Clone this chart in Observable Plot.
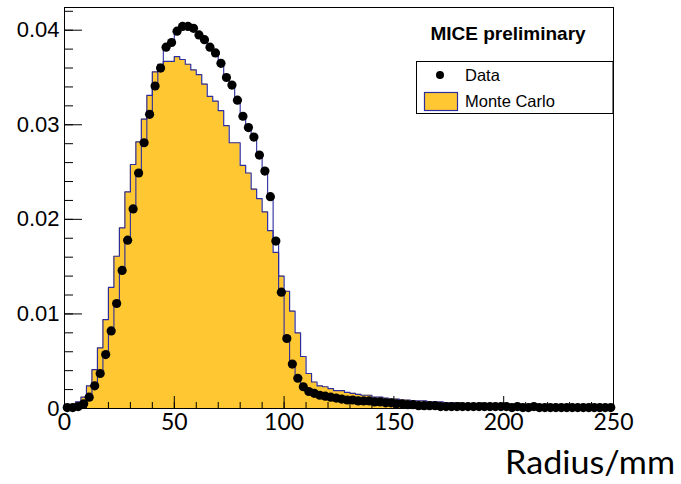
<!DOCTYPE html>
<html>
<head>
<meta charset="utf-8">
<script src="https://cdn.jsdelivr.net/npm/d3@7"></script>
<script src="https://cdn.jsdelivr.net/npm/@observablehq/plot@0.6"></script>
<style>
  html, body { margin: 0; padding: 0; background: white; }
  #chart { width: 681px; height: 484px; }
  g[aria-label="x-axis tick label"] text { font-family: Lato, "Open Sans", sans-serif; }
  g[aria-label="y-axis tick label"] text { font-family: "Liberation Sans", Arial, sans-serif; }
</style>
</head>
<body>
<div id="chart"></div>
<script>
// Histogram binning: 100 bins of 2.5 mm from 0 to 250 mm
const binWidth = 2.5;
const binLow = d3.range(0, 250, binWidth);

// Monte Carlo (normalised) bin contents
const monteCarlo = [
  0.0001,0.0003,0.0007,0.0012,0.0024,0.0041,0.0064,0.0094,0.0128,0.0161,
  0.0191,0.0229,0.0258,0.0282,0.0306,0.0331,0.0356,0.0364,0.0367,0.0367,
  0.0372,0.0369,0.0364,0.0358,0.0353,0.0343,0.0330,0.0325,0.0315,0.0299,
  0.0281,0.0281,0.0257,0.0249,0.0232,0.0222,0.0208,0.0188,0.0165,0.0140,
  0.0124,0.0103,0.0080,0.0055,0.0037,0.0028,0.0024,0.0023,0.0021,0.0019,
  0.0019,0.0017,0.0016,0.0015,0.0014,0.0014,0.0012,0.0012,0.0011,0.0010,
  0.0010,0.0009,0.0009,0.0008,0.0008,0.0008,0.0007,0.0007,0.0007,0.0006,
  0.0006,0.0006,0.0005,0.0005,0.0005,0.0005,0.0005,0.0004,0.0004,0.0004,
  0.0003,0.0003,0.0003,0.0003,0.0003,0.0002,0.0002,0.0002,0.0002,0.0002,
  0.0002,0.0002,0.0002,0.0001,0.0002,0.0001,0.0001,0.0001,0.0001,0.0001
];

// Data (normalised) bin contents
const dataValues = [
  0.0001,0.0001,0.0002,0.0005,0.0012,0.0024,0.0037,0.0057,0.0082,0.0111,
  0.0146,0.0178,0.0211,0.0249,0.0281,0.0311,0.0341,0.0360,0.0382,0.0387,
  0.0399,0.0404,0.0404,0.0402,0.0395,0.0390,0.0382,0.0376,0.0365,0.0350,
  0.0342,0.0326,0.0309,0.0297,0.0287,0.0268,0.0251,0.0224,0.0177,0.0123,
  0.0074,0.0047,0.0032,0.0023,0.0018,0.0016,0.0014,0.0013,0.0012,0.0011,
  0.0010,0.0009,0.0009,0.0008,0.0008,0.0008,0.0007,0.0007,0.0006,0.0006,
  0.0005,0.0005,0.0004,0.0004,0.0003,0.0003,0.0003,0.0003,0.0002,0.0002,
  0.0002,0.0002,0.0002,0.0002,0.0002,0.0002,0.0002,0.0002,0.0002,0.0002,
  0.0002,0.0001,0.0002,0.0001,0.0001,0.0002,0.0001,0.0001,0.0001,0.0001,
  0.0001,0.0001,0.0001,0.0001,0.0001,0.0001,0.0001,0.0001,0.0001,0.0001
];

// Axis ticks
const xMajorTicks = [0, 50, 100, 150, 200, 250];
const xMinorTicks = d3.range(0, 251, 10);
const yMajorTicks = [0, 0.01, 0.02, 0.03, 0.04];
const yMinorTicks = d3.range(0, 0.0424, 0.002);
const xLabel = "Radius/mm";
const title = "MICE preliminary";
const legendLabels = ["Data", "Monte Carlo"];

const yellow = "#ffc832";
const blue = "#2d2d9e";

// step outlines built from the bin contents
function stepOutline(values) {
  const pts = [];
  values.forEach((v, i) => {
    pts.push({x: binLow[i], y: v});
    pts.push({x: binLow[i] + binWidth, y: v});
  });
  return pts;
}
const mcSteps = stepOutline(monteCarlo);
const dataSteps = stepOutline(dataValues);
const dataPoints = dataValues.map((v, i) => ({x: binLow[i] + binWidth / 2, y: v}));

const W = 681, H = 484;
const mL = 64, mR = 68, mT = 7, mB = 76;
const frameW = W - mL - mR, frameH = H - mT - mB;

const plot = Plot.plot({
  width: W,
  height: H,
  marginLeft: mL,
  marginRight: mR,
  marginTop: mT,
  marginBottom: mB,
  style: {background: "white", color: "black", fontFamily: "'Liberation Sans', Arial, sans-serif"},
  x: {domain: [0, 250]},
  y: {domain: [0, 0.0424]},
  marks: [
    Plot.area(mcSteps, {x1: "x", y1: 0, y2: "y", fill: yellow, curve: "linear"}),
    Plot.line(mcSteps, {x: "x", y: "y", stroke: blue, strokeWidth: 1.2}),
    Plot.line(dataSteps, {x: "x", y: "y", stroke: blue, strokeWidth: 1.1}),
    Plot.dot(dataPoints, {x: "x", y: "y", r: 4.6, fill: "black", stroke: "none"}),
    Plot.tickX(xMinorTicks, {x: d => d, stroke: "black", insetTop: frameH - 6}),
    Plot.tickX(xMajorTicks, {x: d => d, stroke: "black", insetTop: frameH - 12}),
    Plot.tickY(yMinorTicks, {y: d => d, stroke: "black", insetRight: frameW - 9}),
    Plot.tickY(yMajorTicks, {y: d => d, stroke: "black", insetRight: frameW - 18}),
    Plot.frame({stroke: "black", strokeWidth: 1}),
    Plot.axisX({ticks: xMajorTicks, tickSize: 0, tickPadding: 5, fontSize: 23, fontFamily: "Lato", tickFormat: d => String(d), label: null}),
    Plot.axisY({ticks: yMajorTicks, tickSize: 0, tickPadding: 5, fontSize: 22, tickFormat: d => d === 0 ? "0" : d.toFixed(2), label: null})
  ]
});

document.getElementById("chart").appendChild(plot);

// Title, legend and axis label overlay
const svg = d3.select(plot);
svg.append("text")
  .attr("x", 508).attr("y", 40)
  .attr("text-anchor", "middle")
  .attr("font-family", "'Liberation Sans', Arial, sans-serif")
  .attr("font-weight", "bold")
  .attr("font-size", 19)
  .attr("fill", "black")
  .text(title);

const lg = svg.append("g");
lg.append("rect")
  .attr("x", 416.5).attr("y", 61.5).attr("width", W - mR - 416.5).attr("height", 52)
  .attr("fill", "white").attr("stroke", "black").attr("stroke-width", 1);
lg.append("circle").attr("cx", 440).attr("cy", 75).attr("r", 4).attr("fill", "black");
lg.append("rect").attr("x", 424.5).attr("y", 92.5).attr("width", 33).attr("height", 18)
  .attr("fill", yellow).attr("stroke", blue).attr("stroke-width", 1.2);
lg.selectAll("text.lab").data(legendLabels).join("text")
  .attr("class", "lab")
  .attr("x", 465).attr("y", (d, i) => 75 + i * 26)
  .attr("dy", "0.35em")
  .attr("text-anchor", "start")
  .attr("font-family", "'Liberation Sans', Arial, sans-serif")
  .attr("font-size", 16.5)
  .attr("fill", "black")
  .text(d => d);

svg.append("text")
  .attr("x", 505).attr("y", 474)
  .attr("text-anchor", "start")
  .attr("font-family", "Lato, 'Open Sans', sans-serif")
  .attr("font-size", 32)
  .attr("textLength", 170)
  .attr("lengthAdjust", "spacingAndGlyphs")
  .attr("fill", "black")
  .text(xLabel);
</script>
</body>
</html>
